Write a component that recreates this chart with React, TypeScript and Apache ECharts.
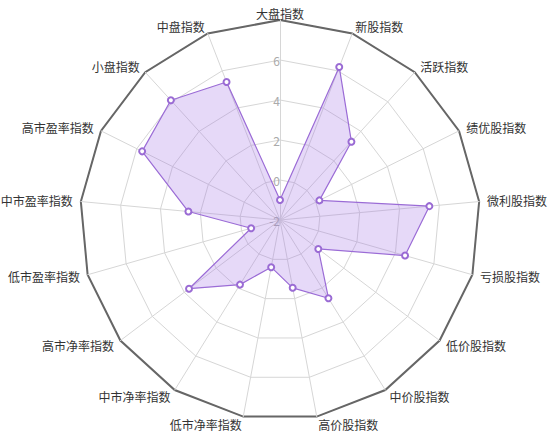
import React, { useEffect, useRef } from "react";
import * as echarts from "echarts";

// Indicators, clockwise from the top
const indicatorNames = [
  "大盘指数", "新股指数", "活跃指数", "绩优股指数", "微利股指数", "亏损股指数",
  "低价股指数", "中价股指数", "高价股指数", "低市净率指数", "中市净率指数",
  "高市净率指数", "低市盈率指数", "中市盈率指数", "高市盈率指数", "小盘指数", "中盘指数",
];
const values = [
  -1, 6.2, 3.3, 0.2, 5.5, 4.5,
  0.4, 2.6, 1.45, 0.4, 1.8,
  3.7, -0.5, 2.6, 5.7, 6.1, 5.4,
];
const axisMin = -2;
const axisMax = 8;

export default function App() {
  const ref = useRef<HTMLDivElement>(null);
  useEffect(() => {
    if (!ref.current) return;
    const chart = echarts.init(ref.current, null, { renderer: "svg" });
    // ECharts places radar indicators counter-clockwise; reorder to keep the
    // reference's clockwise order.
    const order = [0, ...Array.from({ length: indicatorNames.length - 1 }, (_, i) => indicatorNames.length - 1 - i)];
    const indicators = order.map((i, k) => ({
      name: k === 0 ? "" : indicatorNames[i],
      min: axisMin,
      max: axisMax,
      ...(k === 0 ? { axisLabel: { show: true } } : {}),
    }));
    const data = order.map((i) => values[i]);
    const font = '"Noto Sans CJK SC", sans-serif';
    chart.setOption({
      animation: false,
      graphic: [
        {
          type: "text",
          x: 280,
          y: 13,
          z: 10,
          style: {
            text: indicatorNames[0],
            fill: "#333",
            fontSize: 12,
            fontFamily: font,
            align: "center",
            verticalAlign: "middle",
          },
        },
      ],
      radar: [
        {
          center: [280, 220],
          radius: 200,
          startAngle: 90,
          splitNumber: 5,
          shape: "polygon",
          indicator: indicators,
          axisName: { color: "#333", fontSize: 12, fontFamily: font },
          nameGap: 8,
          axisLine: { lineStyle: { color: "#d6d6d6", width: 1 } },
          splitLine: { lineStyle: { color: "#d6d6d6", width: 1 } },
          splitArea: { show: false },
          axisLabel: {
            show: false,
            color: "#aaa",
            fontSize: 12,
            fontFamily: font,
            margin: 0,
            formatter: (v: number) => (v === axisMax ? "" : String(v)),
          },
        },
        {
          center: [280, 220],
          radius: 200,
          startAngle: 90,
          splitNumber: 1,
          shape: "polygon",
          indicator: indicators.map(() => ({ name: "", min: axisMin, max: axisMax })),
          axisName: { show: false },
          axisLine: { show: false },
          splitLine: { lineStyle: { color: ["rgba(0,0,0,0)", "#666"], width: 2 } },
          splitArea: { show: false },
          axisLabel: { show: false },
        },
      ],
      series: [
        {
          type: "radar",
          radarIndex: 0,
          symbol: "emptyCircle",
          symbolSize: 6,
          lineStyle: { color: "#9a6bd4", width: 1.2 },
          itemStyle: { color: "#9a6bd4", borderColor: "#9a6bd4", borderWidth: 1 },
          areaStyle: { color: "rgba(167,117,230,0.4)" },
          data: [{ value: data }],
        },
      ],
    });
    return () => chart.dispose();
  }, []);
  return (
    <div
      ref={ref}
      style={{ position: "fixed", left: 0, top: 0, width: 550, height: 436, background: "#fff" }}
    />
  );
}
